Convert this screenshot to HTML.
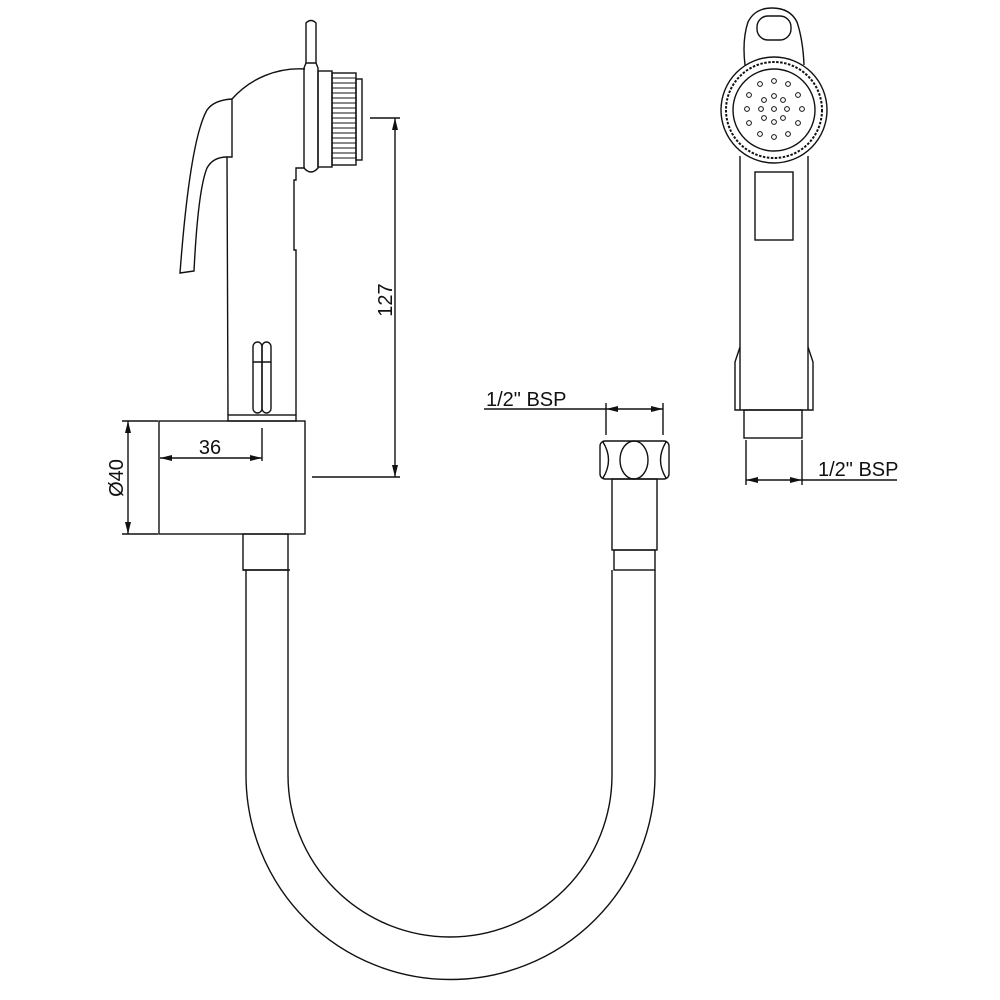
<!DOCTYPE html>
<html><head><style>html,body{margin:0;padding:0;background:#fff}svg{display:block}</style></head>
<body>
<svg width="1000" height="1000" viewBox="0 0 1000 1000" xmlns="http://www.w3.org/2000/svg" fill="none" stroke="#111" stroke-width="1.4" font-family="'Liberation Sans', sans-serif">
<defs>
<marker id="a" markerWidth="12" markerHeight="6" refX="12" refY="3" orient="auto" markerUnits="userSpaceOnUse"><path d="M0,0 L12,3 L0,6 Z" fill="#111" stroke="none"/></marker>
</defs>
<!-- hose -->
<path d="M246,570 L246,775 A204.5,204.5 0 0 0 655,775 L655,570"/>
<path d="M288,570 L288,775 A162,162 0 0 0 612,775 L612,570"/>
<line x1="243" y1="570" x2="290" y2="570"/>
<rect x="243" y="534" width="45" height="36"/>
<!-- block -->
<rect x="159" y="421" width="146" height="113"/>
<!-- handle -->
<rect x="228" y="415" width="68" height="6"/>
<path d="M228,415 L227,157 L232,157 L232,99 A90,90 0 0 1 305,69"/>
<path d="M232,99 Q214,100 207,110 Q190,140 180,273 L194,271 Q198,190 207,168 Q213,157 227,157"/>
<path d="M296,415 L296,250 L294,250 L294,180 L296,180 L296,168 L305,168"/>
<path d="M306,63 L306,23 Q311,18 316,23 L316,63"/>
<path d="M304,68 L306,63 L316,63 L318,68 L318,168 Q311,176 304,168 Z"/>
<rect x="318" y="71" width="14" height="96"/>
<rect x="332" y="73" width="24" height="92"/>
<g stroke-width="0.9">
<line x1="332" y1="78" x2="356" y2="78"/><line x1="332" y1="83" x2="356" y2="83"/><line x1="332" y1="88" x2="356" y2="88"/><line x1="332" y1="93" x2="356" y2="93"/><line x1="332" y1="98" x2="356" y2="98"/><line x1="332" y1="103" x2="356" y2="103"/><line x1="332" y1="108" x2="356" y2="108"/><line x1="332" y1="113" x2="356" y2="113"/><line x1="332" y1="118" x2="356" y2="118"/><line x1="332" y1="123" x2="356" y2="123"/><line x1="332" y1="128" x2="356" y2="128"/><line x1="332" y1="133" x2="356" y2="133"/><line x1="332" y1="138" x2="356" y2="138"/><line x1="332" y1="143" x2="356" y2="143"/><line x1="332" y1="148" x2="356" y2="148"/><line x1="332" y1="153" x2="356" y2="153"/><line x1="332" y1="158" x2="356" y2="158"/>
</g>
<rect x="356" y="79" width="6" height="81"/>
<rect x="253" y="342" width="9" height="71" rx="4.5"/>
<rect x="262" y="342" width="9" height="71" rx="4.5"/>
<line x1="253" y1="362" x2="271" y2="362"/>
<!-- dims left -->
<line x1="370" y1="118" x2="400" y2="118"/>
<line x1="312" y1="477" x2="400" y2="477"/>
<line x1="395" y1="300" x2="395" y2="118" marker-end="url(#a)"/>
<line x1="395" y1="300" x2="395" y2="477" marker-end="url(#a)"/>
<text x="0" y="0" transform="translate(392,300) rotate(-90)" text-anchor="middle" fill="#111" stroke="none" font-size="20">127</text>
<line x1="262" y1="428" x2="262" y2="461"/>
<line x1="210" y1="458" x2="160" y2="458" marker-end="url(#a)"/>
<line x1="210" y1="458" x2="262" y2="458" marker-end="url(#a)"/>
<text x="210" y="454" text-anchor="middle" fill="#111" stroke="none" font-size="20">36</text>
<line x1="122" y1="421" x2="158" y2="421"/>
<line x1="122" y1="534" x2="158" y2="534"/>
<line x1="128" y1="478" x2="128" y2="421" marker-end="url(#a)"/>
<line x1="128" y1="478" x2="128" y2="534" marker-end="url(#a)"/>
<text x="0" y="0" transform="translate(123,478) rotate(-90)" text-anchor="middle" fill="#111" stroke="none" font-size="20">Ø40</text>
<!-- nut -->
<rect x="600" y="441" width="69" height="38" rx="5"/>
<ellipse cx="634" cy="460" rx="14" ry="19"/>
<path d="M603,442 Q614,460 603,478"/>
<path d="M666,442 Q655,460 666,478"/>
<rect x="612" y="479" width="45" height="71"/>
<rect x="614" y="550" width="41" height="20"/>
<line x1="484" y1="409" x2="606" y2="409"/>
<line x1="606" y1="403" x2="606" y2="435"/>
<line x1="663" y1="403" x2="663" y2="435"/>
<line x1="634" y1="409" x2="606" y2="409" marker-end="url(#a)"/>
<line x1="634" y1="409" x2="663" y2="409" marker-end="url(#a)"/>
<text x="486" y="406" fill="#111" stroke="none" font-size="20">1/2" BSP</text>
<!-- right view -->
<path d="M745,65 Q742,40 748,22 Q755,8 772,8 Q790,8 797,22 Q803,40 804,65"/>
<rect x="757" y="16" width="34" height="24" rx="11"/>
<circle cx="774" cy="110" r="53"/>
<circle cx="774" cy="110" r="48" stroke-dasharray="2.5 1.5" stroke-width="2"/>
<circle cx="774" cy="110" r="41"/>
<g stroke-width="1">
<circle cx="760" cy="84" r="2.4"/><circle cx="774" cy="81" r="2.4"/><circle cx="788" cy="84" r="2.4"/>
<circle cx="749" cy="95" r="2.4"/><circle cx="764" cy="100" r="2.4"/><circle cx="774" cy="96" r="2.4"/><circle cx="783" cy="100" r="2.4"/><circle cx="798" cy="95" r="2.4"/>
<circle cx="747" cy="109" r="2.4"/><circle cx="761" cy="109" r="2.4"/><circle cx="774" cy="109" r="2.4"/><circle cx="787" cy="109" r="2.4"/><circle cx="802" cy="109" r="2.4"/>
<circle cx="749" cy="123" r="2.4"/><circle cx="764" cy="118" r="2.4"/><circle cx="774" cy="122" r="2.4"/><circle cx="783" cy="118" r="2.4"/><circle cx="798" cy="123" r="2.4"/>
<circle cx="760" cy="134" r="2.4"/><circle cx="774" cy="137" r="2.4"/><circle cx="788" cy="134" r="2.4"/>
</g>
<path d="M740,156 L740,347 L735,362 L735,410 L813,410 L813,362 L808,347 L808,156"/>
<line x1="740" y1="347" x2="740" y2="410"/>
<line x1="808" y1="347" x2="808" y2="410"/>
<rect x="755" y="172" width="38" height="68"/>
<rect x="744" y="410" width="58" height="28"/>
<line x1="746" y1="440" x2="746" y2="485"/>
<line x1="802" y1="440" x2="802" y2="485"/>
<line x1="774" y1="480" x2="746" y2="480" marker-end="url(#a)"/>
<line x1="774" y1="480" x2="802" y2="480" marker-end="url(#a)"/>
<line x1="802" y1="480" x2="897" y2="480"/>
<text x="818" y="476" fill="#111" stroke="none" font-size="20">1/2" BSP</text>
</svg>
</body></html>
